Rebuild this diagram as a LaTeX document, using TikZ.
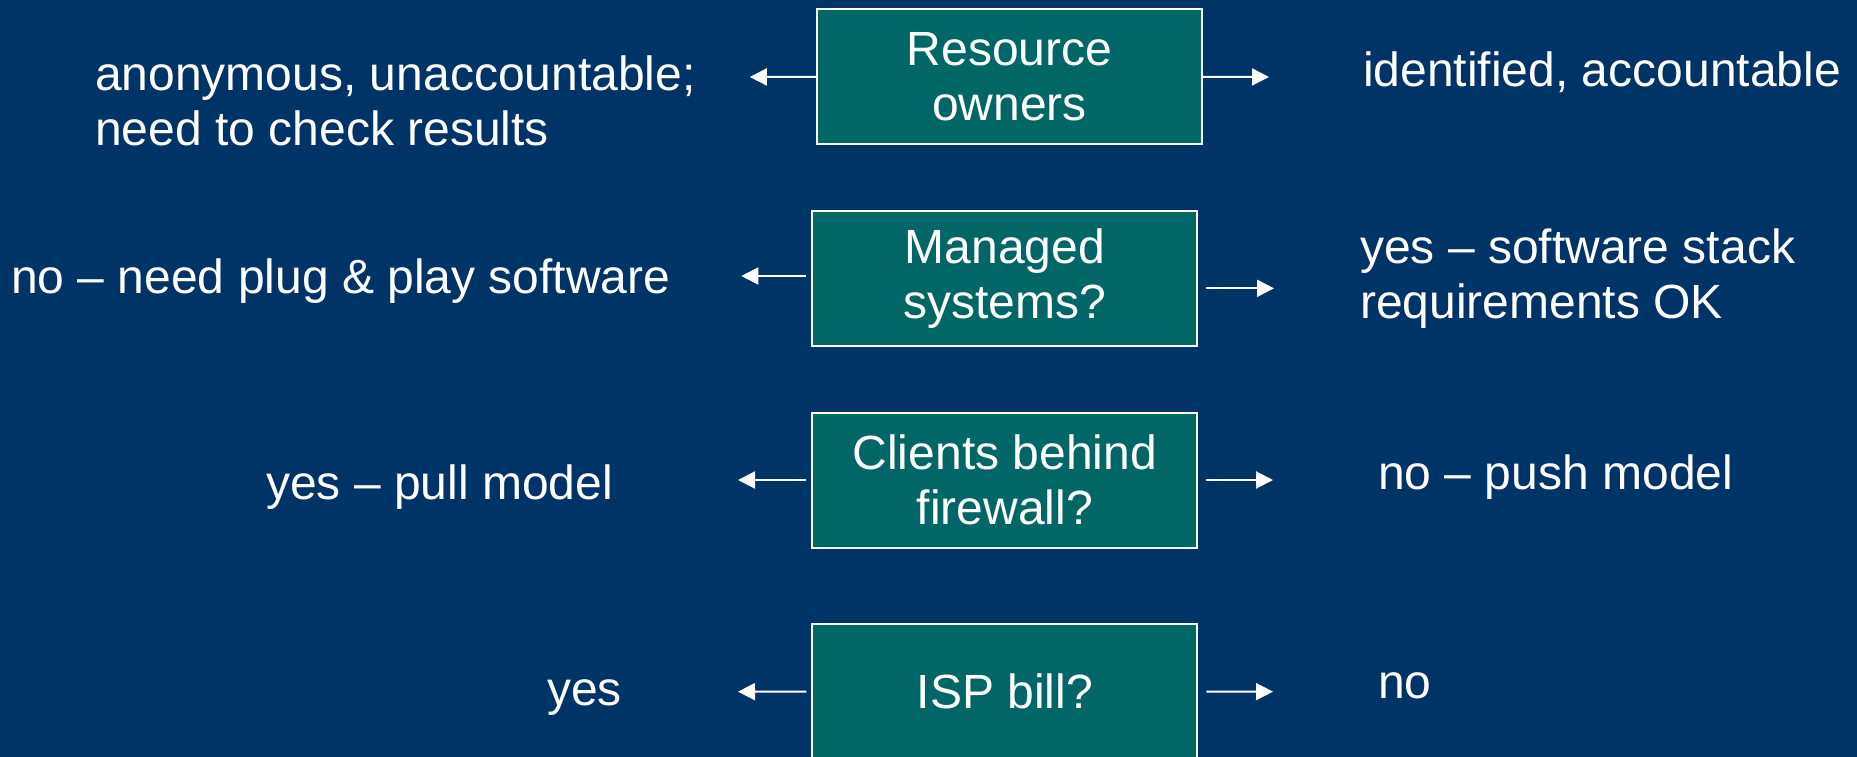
\documentclass[tikz,border=0pt]{standalone}
\usepackage{fontspec}
\setmainfont{Liberation Sans}
\usetikzlibrary{arrows.meta,positioning}
\definecolor{slideblue}{RGB}{0,51,102}
\definecolor{boxteal}{RGB}{0,102,102}

\begin{document}
\begin{tikzpicture}[x=1pt,y=-1pt,>={Triangle[length=17pt,width=17pt]},
    every node/.style={text=white,font=\fontsize{48}{54.5}\selectfont,inner sep=0pt},
    question/.style={draw=white,line width=2pt,fill=boxteal,minimum width=385pt,minimum height=135pt,align=center},
    answer/.style={align=left,anchor=base west},
    link/.style={->,draw=white,line width=2pt}]
  \fill[slideblue] (0,0) rectangle (1857,757);
  \useasboundingbox (0,0) rectangle (1857,757);
  \clip (0,0) rectangle (1857,757);
  % questions
  \node[question] (own) at (1009.4,76.8) {Resource\\owners};
  \node[question] (sys) at (1004.75,278.7) {Managed\\systems?};
  \node[question] (fw) at (1004.75,480) {Clients behind\\firewall?};
  \node[question] (isp) at (1004.75,691.5) {ISP bill?};
  % answers (base = last line)
  \node[answer] (own-no) at (95,145.2) {anonymous, unaccountable;\\need to check results};
  \node[answer] (own-yes) at (1363,86.7) {identified, accountable};
  \node[answer] (sys-no) at (11,293) {no -- need plug \& play software};
  \node[answer] (sys-yes) at (1360,318.3) {yes -- software stack\\requirements OK};
  \node[answer] (fw-yes) at (266,499.3) {yes -- pull model};
  \node[answer] (fw-no) at (1378,489.3) {no -- push model};
  \node[answer] (isp-yes) at (547,705) {yes};
  \node[answer] (isp-no) at (1378,698.3) {no};
  % arrow ends
  \coordinate (own-l) at (749.8,77);
  \coordinate (own-r) at (1269,77);
  \coordinate (sys-l) at (741.3,276);
  \coordinate (sys-r) at (1274,288.3);
  \coordinate (fw-l) at (738,480);
  \coordinate (fw-r) at (1273,480);
  \coordinate (isp-l) at (738,691.7);
  \coordinate (isp-r) at (1273,691.7);
  \draw[link] (own.west) -- (own-l);
  \draw[link] (own.east) -- (own-r);
  \draw[link,shorten <=5pt] (sys.west |- sys-l) -- (sys-l);
  \draw[link,shorten <=8pt] (sys.east |- sys-r) -- (sys-r);
  \draw[link,shorten <=5pt] (fw.west) -- (fw-l);
  \draw[link,shorten <=8pt] (fw.east) -- (fw-r);
  \draw[link,shorten <=5pt] (isp.west) -- (isp-l);
  \draw[link,shorten <=8pt] (isp.east) -- (isp-r);
\end{tikzpicture}
\end{document}
